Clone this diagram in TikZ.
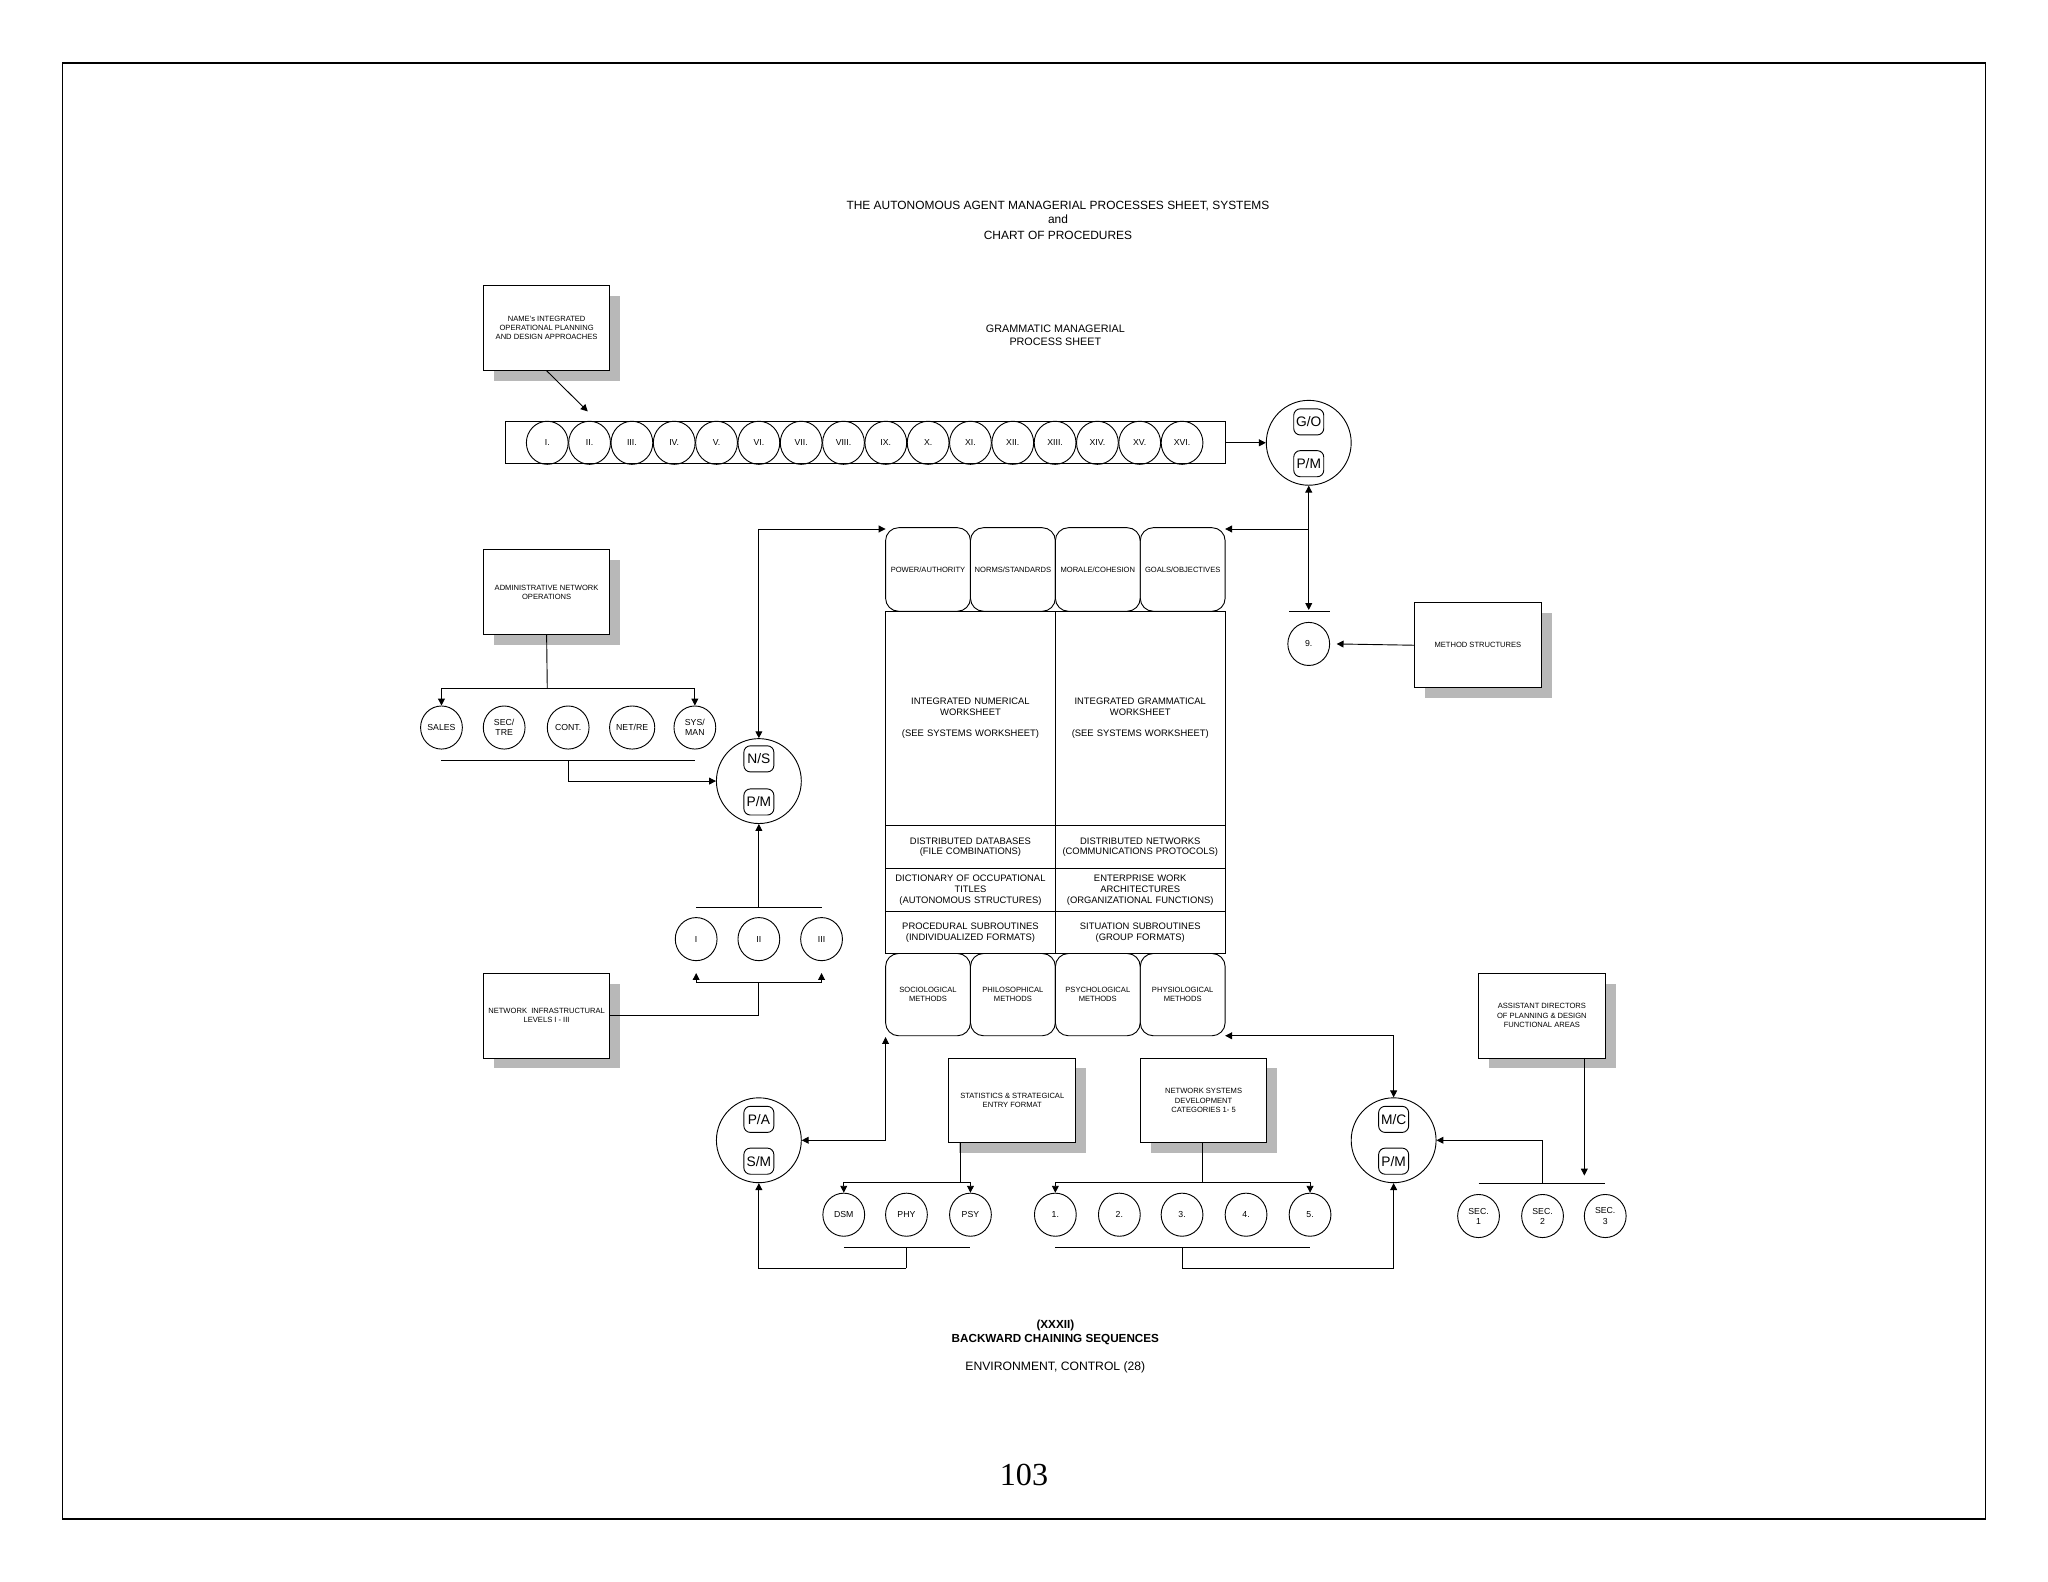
\documentclass[tikz,border=0pt]{standalone}
\usepackage{fontspec}
\setmainfont{Liberation Sans}
\newfontfamily\serifnum{Liberation Serif}
\usetikzlibrary{shapes.geometric,shadows,arrows.meta}
\begin{document}
\begin{tikzpicture}[x=0.02cm,y=-0.02cm,
  every node/.style={inner sep=0pt,align=center},
  lbl/.style={font=\fontsize{5.2pt}{6pt}\selectfont},
  tiny/.style={font=\fontsize{3.3pt}{4pt}\selectfont},
  sbox/.style={draw,fill=white,minimum width=1.94cm,minimum height=1.3cm,tiny,
     drop shadow={shadow xshift=0.16cm,shadow yshift=-0.16cm,fill=black!28,opacity=1}},
  circ/.style={draw,ellipse,minimum width=0.64cm,minimum height=0.66cm,font=\fontsize{3.8pt}{4.4pt}\selectfont},
  big/.style={draw,circle,minimum size=1.3cm},
  ib/.style={draw,rounded corners=0.1cm,minimum width=0.46cm,minimum height=0.4cm,font=\fontsize{6pt}{7pt}\selectfont},
  cell/.style={draw,rounded corners=0.2cm,minimum width=1.3cm,minimum height=1.28cm,tiny},
  rowc/.style={draw,minimum width=2.6cm,text width=2.5cm,font=\fontsize{4.1pt}{4.6pt}\selectfont},
  ar/.style={-{Triangle[length=3pt,width=3pt]}}]
\useasboundingbox (0,0) rectangle (1568,1211);
\draw[line width=0.7pt] (48,48) rectangle (1520,1163);
% titles
\node[lbl] (t1) at (810,158) {THE AUTONOMOUS AGENT MANAGERIAL PROCESSES SHEET, SYSTEMS};
\node[lbl] (t2) at (810,168) {and};
\node[lbl] (t3) at (810,180) {CHART OF PROCEDURES};
\node[font=\fontsize{4.7pt}{5.6pt}\selectfont] (t4) at (808,257) {GRAMMATIC MANAGERIAL\\PROCESS SHEET};
% top
\node[sbox] (name) at (418.5,251) {NAME's INTEGRATED\\OPERATIONAL PLANNING\\AND DESIGN APPROACHES};
\node[draw,minimum width=11.02cm,minimum height=0.64cm] (bar) at (662.5,339) {};
\foreach \r [count=\i] in {I.,II.,III.,IV.,V.,VI.,VII.,VIII.,IX.,X.,XI.,XII.,XIII.,XIV.,XV.,XVI.}
  \node[circ] (r\i) at ({419+(\i-1)*32.4},339) {\r};
\coordinate (nameT) at (450,315);
\draw[ar] (name.south) -- (nameT);
\node[big] (go) at (1002,339) {};
\node[ib] (go1) at (1002,323) {G/O};
\node[ib] (go2) at (1002,355) {P/M};
\draw[ar] (bar.east) -- (go.west);
% central block
\node[cell] (c1) at (710.5,436) {POWER/AUTHORITY};
\node[cell] (c2) at (775.5,436) {NORMS/STANDARDS};
\node[cell] (c3) at (840.5,436) {MORALE/COHESION};
\node[cell] (c4) at (905.5,436) {GOALS/OBJECTIVES};
\node[rowc,minimum height=3.28cm] (w1) at (743,550) {INTEGRATED NUMERICAL\\WORKSHEET\\[4.5pt](SEE SYSTEMS WORKSHEET)};
\node[rowc,minimum height=3.28cm] (w2) at (873,550) {INTEGRATED GRAMMATICAL\\WORKSHEET\\[4.5pt](SEE SYSTEMS WORKSHEET)};
\node[rowc,minimum height=0.66cm] (d1) at (743,648.5) {DISTRIBUTED DATABASES\\(FILE COMBINATIONS)};
\node[rowc,minimum height=0.66cm] (d2) at (873,648.5) {DISTRIBUTED NETWORKS\\(COMMUNICATIONS PROTOCOLS)};
\node[rowc,minimum height=0.66cm] (e1) at (743,681.5) {DICTIONARY OF OCCUPATIONAL\\TITLES\\(AUTONOMOUS STRUCTURES)};
\node[rowc,minimum height=0.66cm] (e2) at (873,681.5) {ENTERPRISE WORK\\ARCHITECTURES\\(ORGANIZATIONAL FUNCTIONS)};
\node[rowc,minimum height=0.64cm] (f1) at (743,714) {PROCEDURAL SUBROUTINES\\(INDIVIDUALIZED FORMATS)};
\node[rowc,minimum height=0.64cm] (f2) at (873,714) {SITUATION SUBROUTINES\\(GROUP FORMATS)};
\node[cell,minimum height=1.26cm] (m1) at (710.5,761.5) {SOCIOLOGICAL\\METHODS};
\node[cell,minimum height=1.26cm] (m2) at (775.5,761.5) {PHILOSOPHICAL\\METHODS};
\node[cell,minimum height=1.26cm] (m3) at (840.5,761.5) {PSYCHOLOGICAL\\METHODS};
\node[cell,minimum height=1.26cm] (m4) at (905.5,761.5) {PHYSIOLOGICAL\\METHODS};
% right of top
\coordinate (gj) at (1002,405);
\coordinate (nb) at (1002,467);
\draw[ar] (gj) -- (go.south);
\draw[ar] (gj) -- (nb);
\draw[ar] (gj) -- (938,405);
\draw (987,468) -- (1018,468);
\node[circ] (n9) at (1002,493) {9.};
\node[sbox] (ms) at (1131.5,494) {METHOD STRUCTURES};
\draw[ar] (ms.west) -- ([xshift=0.1cm]n9.east);
% N/S
\node[big] (ns) at (581,598) {};
\node[ib] (ns1) at (581,581) {N/S};
\node[ib] (ns2) at (581,614) {P/M};
\coordinate (nsT) at (581,405);
\draw[ar] (nsT) -- (ns.north);
\draw[ar] (nsT) -- (678,405);
\node[sbox] (adm) at (418.5,453.5) {ADMINISTRATIVE NETWORK\\OPERATIONS};
\node[circ] (a1) at (338,557) {SALES};
\node[circ] (a2) at (386,557) {SEC/\\TRE};
\node[circ] (a3) at (435,557) {CONT.};
\node[circ] (a4) at (484,557) {NET/RE};
\node[circ] (a5) at (532,557) {SYS/\\MAN};
\draw (adm.south) -- (419,527);
\draw[ar] (419,527) -| (a1.north);
\draw[ar] (419,527) -| (a5.north);
\draw (338,582) -- (532,582);
\draw[ar] (435,582) |- (ns.west);
\node[circ] (l1) at (533,719) {I};
\node[circ] (l2) at (581,719) {II};
\node[circ] (l3) at (629,719) {III};
\draw (533,695) -- (629,695);
\draw[ar] (581,695) -- (ns.south);
\node[sbox] (ni) at (418.5,777.5) {NETWORK\ \ INFRASTRUCTURAL\\LEVELS I - III};
\draw (ni.east) -| (581,752);
\draw[ar] (581,752) -| (533,745);
\draw[ar] (581,752) -| (629,745);
% P/A
\node[big] (pa) at (581,873) {};
\node[ib] (pa1) at (581,857) {P/A};
\node[ib] (pa2) at (581,889) {S/M};
\coordinate (pj) at (678,873);
\draw[ar] (pj) -- (678,794);
\draw[ar] (pj) -- (pa.east);
\node[sbox] (st) at (775,842.5) {STATISTICS \& STRATEGICAL\\ENTRY FORMAT};
\node[circ] (s1) at (646,930) {DSM};
\node[circ] (s2) at (694,930) {PHY};
\node[circ] (s3) at (743,930) {PSY};
\draw (735,875) -- (735,905);
\draw[ar] (735,905) -| (s1.north);
\draw[ar] (735,905) -| (s3.north);
\draw (646,955) -- (743,955);
\draw (694,955) -- (694,971);
\draw[ar] (694,971) -| (pa.south);
\node[sbox] (nw) at (921.5,842.5) {NETWORK SYSTEMS\\DEVELOPMENT\\CATEGORIES 1- 5};
\foreach \x [count=\i] in {808,857,905,954,1003}
  \node[circ] (k\i) at (\x,930) {\i.};
\draw (921,875) -- (921,905);
\draw[ar] (921,905) -| (k1.north);
\draw[ar] (921,905) -| (k5.north);
\draw (808,955) -- (1003,955);
\draw (905,955) -- (905,971);
% M/C
\node[big] (mc) at (1067,873) {};
\node[ib] (mc1) at (1067,857) {M/C};
\node[ib] (mc2) at (1067,889) {P/M};
\draw[ar] (905,971) -| (mc.south);
\coordinate (mj) at (1067,793);
\draw[ar] (mj) -- (938,793);
\draw[ar] (mj) -- (mc.north);
\node[sbox] (ad) at (1180.5,777.5) {ASSISTANT DIRECTORS\\OF PLANNING \& DESIGN\\FUNCTIONAL AREAS};
\draw[ar] (1213,810) -- (1213,900);
\draw (1132,906) -- (1229,906);
\draw[ar] (1181,906) |- (mc.east);
\node[circ] (sc1) at (1132,931) {SEC.\\1};
\node[circ] (sc2) at (1181,931) {SEC.\\2};
\node[circ] (sc3) at (1229,931) {SEC.\\3};
% bottom text
\node[font=\fontsize{5.1pt}{6.2pt}\selectfont\bfseries] (b1) at (808,1020) {(XXXII)\\BACKWARD CHAINING SEQUENCES};
\node[font=\fontsize{5.3pt}{6.2pt}\selectfont] (b2) at (808,1047) {ENVIRONMENT, CONTROL (28)};
\node[font=\serifnum\fontsize{14pt}{16pt}\selectfont] (pg) at (784,1129) {103};
\end{tikzpicture}
\end{document}
